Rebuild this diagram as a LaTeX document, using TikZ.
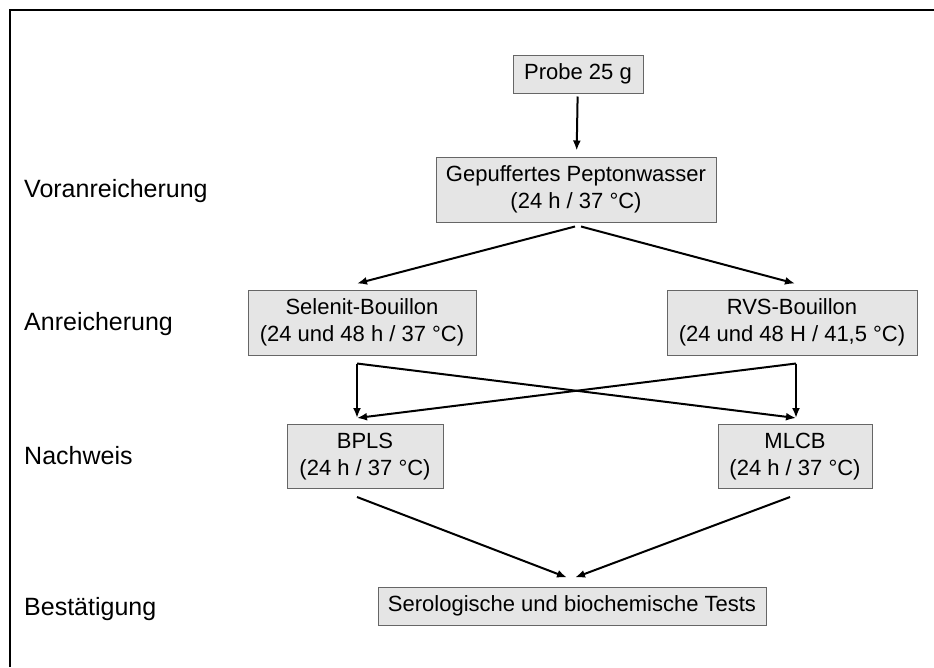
\documentclass[tikz,border=0pt]{standalone}
\usepackage{fontspec}
\setmainfont{Liberation Sans}
\usetikzlibrary{arrows.meta}

\tikzset{
  stufe/.style={draw=black!60, fill=black!10, line width=1pt, align=center,
    minimum height=38pt, inner sep=0pt, font=\fontsize{22}{27}\selectfont},
  ebene/.style={anchor=base west, inner sep=0pt, font=\fontsize{25}{30}\selectfont},
  pfeil/.style={line width=2pt, line join=round, -{Latex[length=10pt,width=8pt]}},
}

\begin{document}
\begin{tikzpicture}[x=1pt,y=-1pt]
\useasboundingbox (0,0) rectangle (934,667);
\draw[line width=2.6pt] (10,667) -- (10,10) -- (934,10);

\node[stufe, minimum width=130] (probe) at (578,74) {Probe 25 g};
\node[stufe, minimum width=280, minimum height=65] (pepton) at (576,189.5) {Gepuffertes Peptonwasser\\(24 h / 37 °C)};
\node[stufe, minimum width=228, minimum height=65] (selenit) at (362,322.5) {Selenit-Bouillon\\(24 und 48 h / 37 °C)};
\node[stufe, minimum width=250, minimum height=65] (rvs) at (792,322.5) {RVS-Bouillon\\(24 und 48 H / 41,5 °C)};
\node[stufe, minimum width=156, minimum height=64] (bpls) at (365,456.5) {BPLS\\(24 h / 37 °C)};
\node[stufe, minimum width=154, minimum height=64] (mlcb) at (795,456.5) {MLCB\\(24 h / 37 °C)};
\node[stufe, minimum width=388] (tests) at (572,606) {Serologische und biochemische Tests};

\node[ebene] (vor) at (24,197) {Voranreicherung};
\node[ebene] (anr) at (24,330) {Anreicherung};
\node[ebene] (nach) at (24,464) {Nachweis};
\node[ebene] (best) at (24,615) {Bestätigung};

\path[draw,pfeil,shorten <=3pt,shorten >=6pt] (probe) -- (pepton);
\path[draw,pfeil] ([xshift=-1,yshift=-4]pepton.south) -- ([xshift=-5,yshift=6]selenit.north);
\path[draw,pfeil] ([xshift=5,yshift=-4]pepton.south) -- ([xshift=3,yshift=6]rvs.north);

\path[draw,pfeil] ([xshift=-5,yshift=-8]selenit.south) -- ([xshift=-8,yshift=6]bpls.north);
\path[draw,pfeil] ([xshift=-5,yshift=-8]selenit.south) -- ([xshift=1,yshift=6]mlcb.north);
\path[draw,pfeil] ([xshift=4,yshift=-8]rvs.south) -- ([xshift=1,yshift=6]mlcb.north);
\path[draw,pfeil] ([xshift=4,yshift=-8]rvs.south) -- ([xshift=-8,yshift=6]bpls.north);

\path[draw,pfeil] ([xshift=-8,yshift=-8]bpls.south) -- ([xshift=-5,yshift=9]tests.north);
\path[draw,pfeil] ([xshift=-5,yshift=-8]mlcb.south) -- ([xshift=3,yshift=9]tests.north);
\end{tikzpicture}
\end{document}
